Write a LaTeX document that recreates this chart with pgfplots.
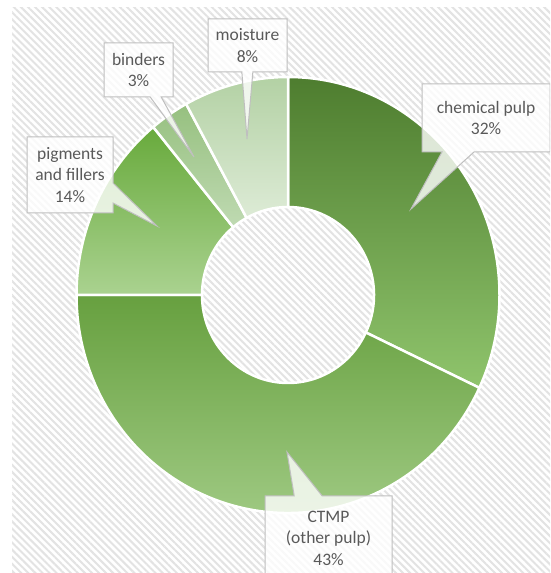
\documentclass[border=0pt]{standalone}
\usepackage{pgfplots}
\usepackage{pgfplotstable}
\pgfplotsset{compat=1.18}
\usepackage{fontspec}
\setmainfont{Carlito}
\usetikzlibrary{calc,shapes.callouts,patterns.meta}

\definecolor{txt}{HTML}{595959}
\definecolor{boxline}{HTML}{BFBFBF}
\definecolor{hatch}{HTML}{E3E3E3}
\definecolor{chemT}{HTML}{4E7D2F}
\definecolor{chemB}{HTML}{8FC46C}
\definecolor{ctmpT}{HTML}{67A03F}
\definecolor{ctmpB}{HTML}{A5CE8A}
\definecolor{pigT}{HTML}{68AA3C}
\definecolor{pigB}{HTML}{AAD290}
\definecolor{bindT}{HTML}{96C07F}
\definecolor{bindB}{HTML}{BFDAB2}
\definecolor{moistT}{HTML}{B3D1A4}
\definecolor{moistB}{HTML}{DDEBD6}

% share of each part, clockwise from 12 o'clock
\pgfplotstableread{
part value
chemical 32
ctmp 43
pigments 14
binders 3
moisture 8
}\donut

% centre (axis units = pt); radii: the original is slightly stretched vertically
\def\cx{288}\def\cy{278}

\newcommand\sector[4]{%
  \shadedraw[top color=#3, bottom color=#4, draw=white, line width=2.5pt, line join=round]
    ($(axis cs:\cx,\cy)+(#1:211.5pt and 218pt)$)
    arc[start angle=#1, end angle=#2, x radius=211.5pt, y radius=218pt]
    -- ($(axis cs:\cx,\cy)+(#2:86pt and 88pt)$)
    arc[start angle=#2, end angle=#1, x radius=86pt, y radius=88pt] -- cycle;
}

\tikzset{callouts/.style={rectangle callout, draw=boxline, line width=1pt,
  fill=white, fill opacity=0.8, text opacity=1, text=txt,
  inner sep=0pt, align=center,
  font=\fontsize{17.5}{21.5}\selectfont}}

\begin{document}
\begin{tikzpicture}
\pgfplotstablegetelem{0}{value}\of\donut\let\vA\pgfplotsretval
\pgfplotstablegetelem{1}{value}\of\donut\let\vB\pgfplotsretval
\pgfplotstablegetelem{2}{value}\of\donut\let\vC\pgfplotsretval
\pgfplotstablegetelem{3}{value}\of\donut\let\vD\pgfplotsretval
\pgfplotstablegetelem{4}{value}\of\donut\let\vE\pgfplotsretval
\pgfmathsetmacro\eA{90-3.6*\vA}
\pgfmathsetmacro\eB{\eA-3.6*\vB}
\pgfmathsetmacro\eC{\eB-3.6*\vC}
\pgfmathsetmacro\eD{\eC-3.6*\vD}
\pgfmathsetmacro\eE{\eD-3.6*\vE}

\useasboundingbox (0,0) rectangle (550pt,573pt);
\clip (0,0) rectangle (550pt,573pt);
\fill[white] (0,0) rectangle (550pt,573pt);
\fill[pattern={Lines[angle=-45, distance=5pt, line width=2pt]}, pattern color=hatch]
  (12pt,0) rectangle (550pt,565pt);

\begin{axis}[
    x=1pt, y=1pt,
    xmin=0, xmax=550, ymin=0, ymax=573,
    anchor=origin, at={(0pt,0pt)},
    hide axis, clip=false,
]
\sector{90}{\eA}{chemT}{chemB}
\sector{\eA}{\eB}{ctmpT}{ctmpB}
\sector{\eB}{\eC}{pigT}{pigB}
\sector{\eC}{\eD}{bindT}{bindB}
\sector{\eD}{\eE}{moistT}{moistB}

\node[callouts, minimum width=79pt, minimum height=53pt, callout pointer width=11pt,
  callout absolute pointer={(axis cs:247,434)}] at (axis cs:247.5,527.5) {moisture\\8\%};
\node[callouts, minimum width=69pt, minimum height=54pt, callout pointer width=11pt,
  callout absolute pointer={(axis cs:194,416)}] at (axis cs:138.5,503) {binders\\3\%};
\node[callouts, minimum width=86pt, minimum height=76pt, callout pointer width=20pt,
  callout absolute pointer={(axis cs:157,347)}] at (axis cs:70,398) {pigments\\and fillers\\14\%};
\node[callouts, minimum width=128pt, minimum height=68pt, callout pointer width=32pt,
  callout absolute pointer={(axis cs:411,364)}] at (axis cs:486,455) {chemical pulp\\32\%};
\node[callouts, minimum width=127pt, minimum height=84pt, callout pointer width=28pt,
  callout absolute pointer={(axis cs:287,121)}] at (axis cs:328.5,35) {CTMP\\(other pulp)\\43\%};
\end{axis}
\end{tikzpicture}
\end{document}
